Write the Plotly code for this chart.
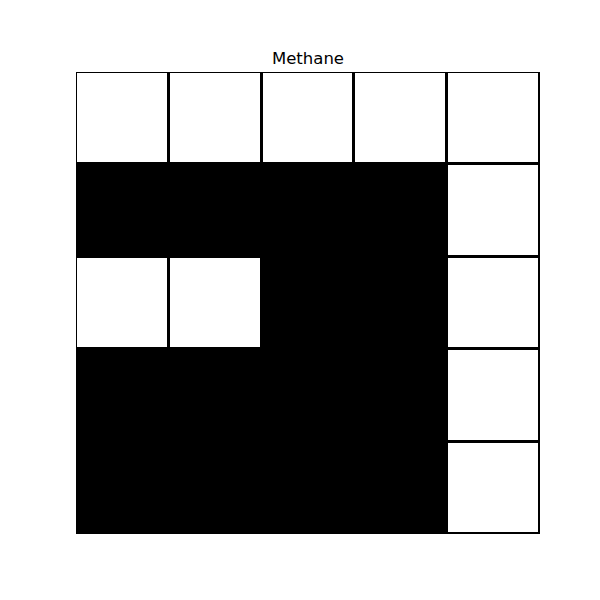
import plotly.graph_objects as go

title = "Methane"
# 1 = white cell, 0 = black cell; rows listed top to bottom
row0 = [1, 1, 1, 1, 1]
row1 = [0, 0, 0, 0, 1]
row2 = [1, 1, 0, 0, 1]
row3 = [0, 0, 0, 0, 1]
row4 = [0, 0, 0, 0, 1]
grid = [row0, row1, row2, row3, row4]
cols = [0, 1, 2, 3, 4]
rows = [0, 1, 2, 3, 4]

# page body has an 8px default margin, so figure coords = page coords - 8
fig = go.Figure(go.Heatmap(
    z=grid, x=cols, y=rows,
    colorscale=[[0, "black"], [1, "white"]],
    zmin=0, zmax=1, showscale=False,
    xgap=3, ygap=3, hoverinfo="skip",
))
fig.update_layout(
    width=600, height=600,
    margin=dict(l=68, r=68, t=64, b=74),
    paper_bgcolor="white", plot_bgcolor="black",
    title=dict(text=title, x=300 / 600, xanchor="center",
               y=1 - 50 / 600, yanchor="middle",
               font=dict(family="DejaVu Sans", size=16.5, color="black")),
    xaxis=dict(range=[-0.5, 4.5], visible=False, fixedrange=True),
    yaxis=dict(range=[4.5, -0.5], visible=False, fixedrange=True),
)
fig.write_html("out.html")
